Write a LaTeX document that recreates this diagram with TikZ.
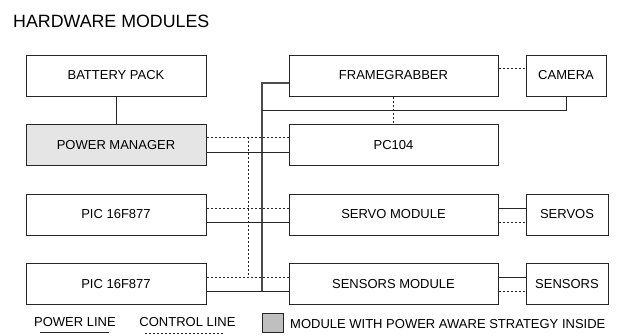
\documentclass[tikz,border=0pt]{standalone}
\usepackage{fontspec}
\setmainfont{Liberation Sans}
\begin{document}
\begin{tikzpicture}[x=1pt,y=-1pt,
  box/.style={draw=black!85,line width=1pt,rectangle,inner sep=0pt,minimum height=41pt,font=\fontsize{13}{15}\selectfont},
  wide/.style={box,minimum width=180pt},
  rwide/.style={box,minimum width=209pt},
  small/.style={box,minimum width=81pt},
  power/.style={draw=black!85,line width=1pt},
  bus/.style={draw=black!70,line width=1.4pt},
  control/.style={draw=black!85,line width=1pt,dash pattern=on 2pt off 2pt},
  lbl/.style={inner sep=0pt,font=\fontsize{13}{15}\selectfont}
]
\useasboundingbox (0,0) rectangle (621,335);
\node[inner sep=0pt,anchor=base west,font=\fontsize{17.8}{20}\selectfont] (title) at (13,27.5) {HARDWARE MODULES};

\node[wide] (bat) at (116,75.5) {BATTERY PACK};
\node[wide,fill=black!10] (pm) at (116,145) {POWER MANAGER};
\node[wide] (pic1) at (116,214.5) {PIC 16F877};
\node[wide] (pic2) at (116,284) {PIC 16F877};

\node[rwide] (fg) at (393.5,75.5) {FRAMEGRABBER};
\node[rwide] (pc) at (393.5,145) {PC104};
\node[rwide] (servo) at (393.5,214.5) {SERVO MODULE};
\node[rwide] (sens) at (393.5,284) {SENSORS MODULE};

\node[small,minimum width=80pt] (cam) at (566,75.5) {CAMERA};
\node[small,minimum width=82pt] (servos) at (567,214.5) {SERVOS};
\node[small,minimum width=82pt] (sensors) at (567,284) {SENSORS};

\coordinate (bustop) at (262,83);
\coordinate (busbot) at (262,291);
\coordinate (ctltop) at (248,137);
\coordinate (ctlbot) at (248,277);
\coordinate (camline) at (262,110.5);

% power lines
\draw[power] (bat.south) -- (pm.north);
\draw[bus] (fg.west |- bustop) -- (bustop) -- (busbot);
\draw[power] (camline) -| (cam.south);
\draw[power] (pm.east |- 0,152) -- (pc.west |- 0,152);
\draw[power] (pic1.east |- 0,222) -- (servo.west |- 0,222);
\draw[power] (pic2.east |- 0,291) -- (sens.west |- 0,291);
\draw[power] (servo.east |- 0,208) -- (servos.west |- 0,208);
\draw[power] (sens.east |- 0,277) -- (sensors.west |- 0,277);

% control lines
\draw[control] (pm.east |- ctltop) -- (pc.west |- ctltop);
\draw[control] (ctltop) -- (ctlbot);
\draw[control] (pic1.east |- 0,208) -- (servo.west |- 0,208);
\draw[control] (pic2.east |- ctlbot) -- (sens.west |- ctlbot);
\draw[control] (fg.south) -- (pc.north);
\draw[control] (fg.east |- 0,68) -- (cam.west |- 0,68);
\draw[control] (servo.east |- 0,222) -- (servos.west |- 0,222);
\draw[control] (sens.east |- 0,291) -- (sensors.west |- 0,291);

% legend
\node[lbl,anchor=base] (lp) at (75,326.5) {POWER LINE};
\coordinate (lp1) at (40,332.5);
\coordinate (lp2) at (109,332.5);
\draw[power] (lp1) -- (lp2);
\node[lbl,anchor=base] (lc) at (187.5,326.5) {CONTROL LINE};
\coordinate (lc1) at (145,333);
\coordinate (lc2) at (224,333);
\draw[control] (lc1) -- (lc2);
\node[draw=black!85,line width=1pt,fill=black!25,minimum width=21pt,minimum height=19pt,inner sep=0pt] (lg) at (272.5,322.5) {};
\node[lbl,anchor=base west] (lm) at (290,328.5) {MODULE WITH POWER AWARE STRATEGY INSIDE};
\end{tikzpicture}
\end{document}
